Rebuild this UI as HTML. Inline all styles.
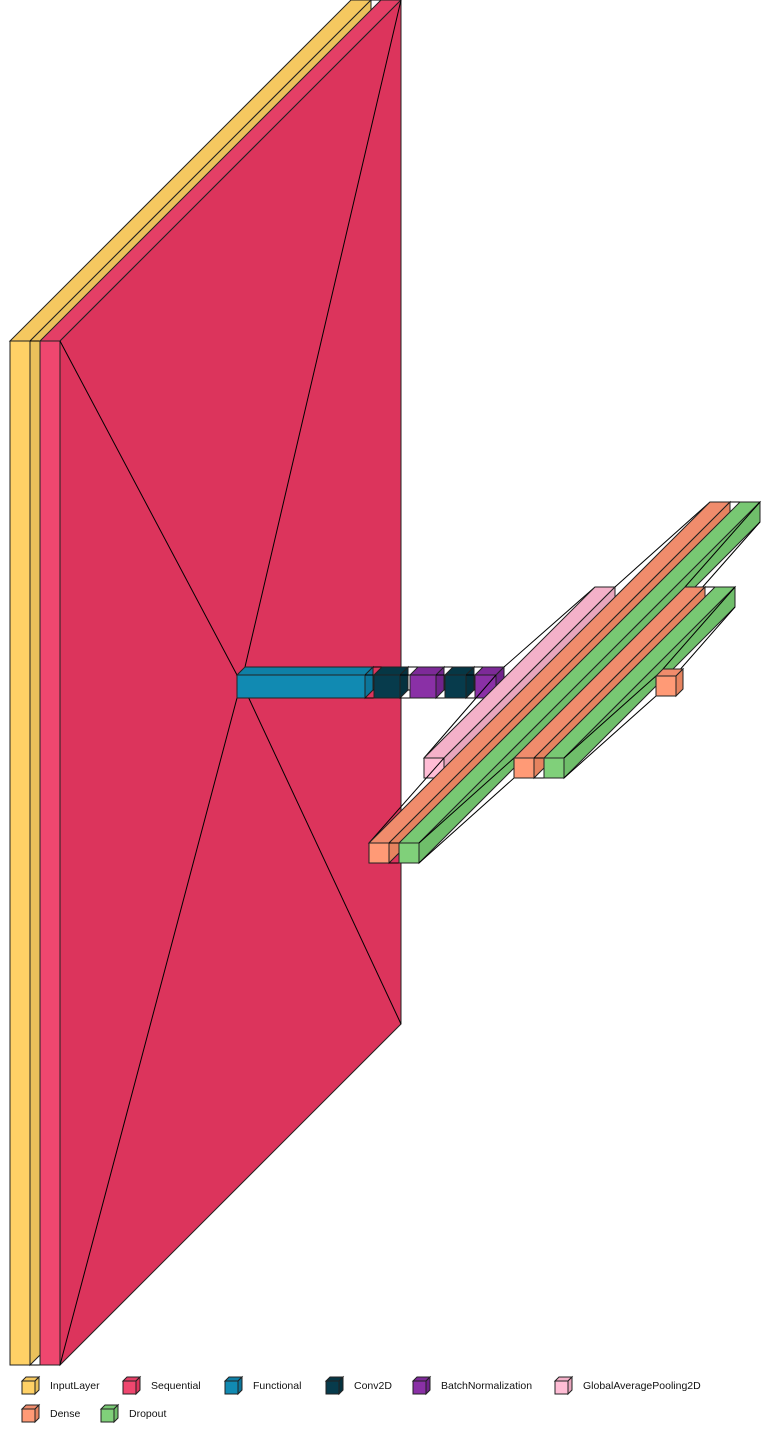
<!DOCTYPE html>
<html><head><meta charset="utf-8"><style>
html,body{margin:0;padding:0;background:#fff;width:771px;height:1432px;overflow:hidden}
svg{display:block}
text{font-family:"Liberation Sans",sans-serif;font-size:10.5px;fill:#111}
</style></head><body>
<svg id="chart" width="771" height="1432" viewBox="0 0 771 1432" xmlns="http://www.w3.org/2000/svg"></svg>
<script>
const layerTypes = ["InputLayer","Sequential","Functional","Conv2D","BatchNormalization","Conv2D","BatchNormalization","GlobalAveragePooling2D","Dense","Dropout","Dense","Dropout","Dense"];
const layerX = [10,40,237,374,410,445,475,424,369,399,514,544,656];
const layerY = [341,341,675,675,675,675,675,758,843,843,758,758,676];
const layerW = [20,20,128,26,26,21,21,20,20,20,20,20,20];
const layerH = [1024,1024,23,23,23,23,23,20,20,20,20,20,20];
const layerD = [341,341,8,8,8,8,8,171,341,341,171,171,7];
const legendTypes = ["InputLayer","Sequential","Functional","Conv2D","BatchNormalization","GlobalAveragePooling2D","Dense","Dropout"];
const legendIconX = [22,123,225,326,413,555,22,101];
const legendRowY = [1377,1377,1377,1377,1377,1377,1405,1405];
const colors = {
  InputLayer:["#ffd166","#f5c860","#ebc15b"],
  Sequential:["#ef476f","#e43f66","#dc345c"],
  Functional:["#118ab2","#0f80a6","#0c759a"],
  Conv2D:["#073b4c","#063745","#05323f"],
  BatchNormalization:["#8a30a6","#7d2a98","#70238b"],
  GlobalAveragePooling2D:["#ffbdd5","#f4b1c9","#e8a6bd"],
  Dense:["#ff9a76","#f08c6c","#e6835f"],
  Dropout:["#80d07a","#78c873","#6fbe6a"]
};
const NS="http://www.w3.org/2000/svg";
const svg=document.getElementById('chart');
function mk(tag,attrs,parent){const e=document.createElementNS(NS,tag);for(const k in attrs)e.setAttribute(k,attrs[k]);(parent||svg).appendChild(e);return e;}
function pts(a){return a.map(p=>p.join(',')).join(' ');}
function drawBox(x,y,w,h,d,c,parent){
  mk('polygon',{points:pts([[x,y],[x+w,y],[x+w+d,y-d],[x+d,y-d]]),fill:c[1],stroke:'#222','stroke-width':1},parent);
  mk('polygon',{points:pts([[x+w,y],[x+w+d,y-d],[x+w+d,y+h-d],[x+w,y+h]]),fill:c[2],stroke:'#222','stroke-width':1},parent);
  mk('rect',{x:x,y:y,width:w,height:h,fill:c[0],stroke:'#222','stroke-width':1},parent);
}
for(let i=0;i<layerTypes.length;i++){
  const g=mk('g',{});
  
  
  drawBox(layerX[i],layerY[i],layerW[i],layerH[i],layerD[i],colors[layerTypes[i]],g);
  if(i+1<layerTypes.length){
    const lg=mk('g',{stroke:'#000','stroke-width':1});
    
    
    const x1=layerX[i]+layerW[i],y1=layerY[i],h1=layerH[i],d1=layerD[i];
    const x2=layerX[i+1],y2=layerY[i+1],h2=layerH[i+1],d2=layerD[i+1];
    mk('line',{x1:x1,y1:y1,x2:x2,y2:y2},lg);
    mk('line',{x1:x1,y1:y1+h1,x2:x2,y2:y2+h2},lg);
    mk('line',{x1:x1+d1,y1:y1-d1,x2:x2+d2,y2:y2-d2},lg);
    mk('line',{x1:x1+d1,y1:y1+h1-d1,x2:x2+d2,y2:y2+h2-d2},lg);
  }
}
for(let i=0;i<legendTypes.length;i++){
  const g=mk('g',{});
  
  
  drawBox(legendIconX[i],legendRowY[i]+4,13,13,4,colors[legendTypes[i]],g);
  const t=mk('text',{x:legendIconX[i]+28,y:legendRowY[i]+12},g);
  t.textContent=legendTypes[i];
}
</script>
</body></html>
